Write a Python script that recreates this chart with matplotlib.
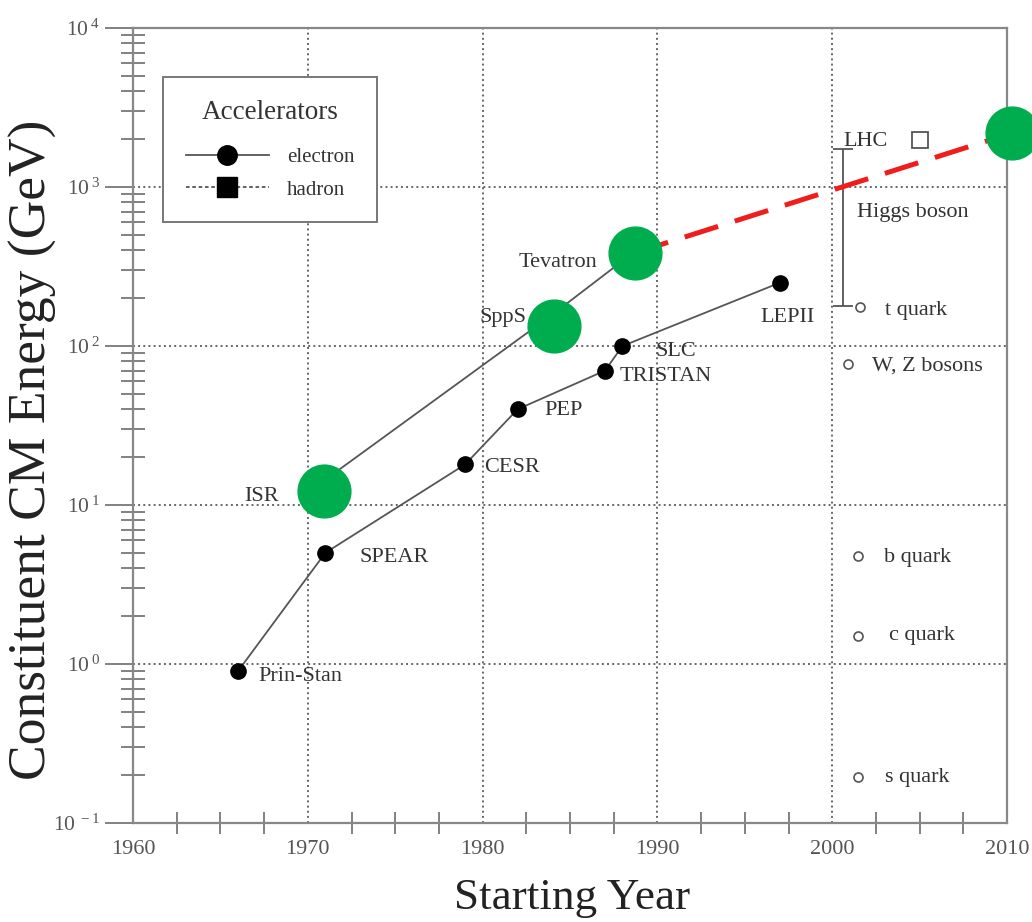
import matplotlib.pyplot as plt
from matplotlib.lines import Line2D
from matplotlib.ticker import LogLocator, MultipleLocator, FixedLocator, FixedFormatter, NullFormatter

plt.rcParams['font.family'] = ['Liberation Serif', 'DejaVu Serif']

# electron colliders
e_names = ['Prin-Stan', 'SPEAR', 'CESR', 'PEP', 'TRISTAN', 'SLC', 'LEPII']
e_year = [1966, 1971, 1979, 1982, 1987, 1988, 1997]
e_energy = [0.9, 5, 18, 40, 70, 100, 250]

# hadron colliders
h_names = ['ISR', 'SppS', 'Tevatron']
h_year = [1970, 1984, 1988.6]
h_energy = [12, 158, 385]

lhc_year = 2005
lhc_energy = 1980

# particle masses
p_names = ['t quark', 'W, Z bosons', 'b quark', 'c quark', 's quark']
p_year = [2001.6, 2000.9, 2001.5, 2001.5, 2001.5]
p_mass = [176, 77, 4.8, 1.5, 0.195]

higgs_year = 2000.6
higgs_low = 178
higgs_high = 1730

# green highlights + red extrapolation
hl_year = [1970.9, 1984.1, 1988.7, 2010.3]
hl_energy = [12.2, 134, 385, 2190]

gray = '#555555'

fig = plt.figure(figsize=(10.32, 9.22), dpi=100)
ax = fig.add_axes([0.1289, 0.1074, 0.8469, 0.8622])

ax.set_yscale('log')
ax.set_xlim(1960, 2010)
ax.set_ylim(0.1, 1e4)

# lines + points
ax.plot(e_year, e_energy, '-', color=gray, lw=1.3, zorder=3)
ax.plot(e_year, e_energy, 'o', color='black', ms=11, zorder=4)
ax.plot(h_year, h_energy, '-', color=gray, lw=1.3, zorder=3)
ax.plot(h_year, h_energy, 's', color='black', ms=11, zorder=4)
ax.plot([lhc_year], [lhc_energy], 's', mfc='white', mec=gray, mew=1.3, ms=12, zorder=4)
ax.plot(p_year, p_mass, 'o', mfc='white', mec=gray, mew=1.2, ms=6.5, zorder=4)

# Higgs mass range bracket
ax.errorbar([higgs_year], [higgs_low],
            yerr=[[0], [higgs_high - higgs_low]], fmt='none',
            ecolor=gray, elinewidth=1.3, capsize=7, capthick=1.3, zorder=3)

# red dashed extrapolation + green highlights
ax.plot(hl_year[2:], hl_energy[2:], color='#f01d1d', lw=3.6, dashes=(7, 3.5),
        zorder=5, clip_on=False)
ax.plot(hl_year, hl_energy, 'o', color='#00ad4e', ms=38, zorder=6, clip_on=False)

# labels
e_off = [(15, -3.5), (24.5, -3.6), (14, -2), (19.5, -1.2), (10.8, -3.9), (24, -4.3), (5.8, -24.7)]
for name, x, y, off in zip(e_names, e_year, e_energy, e_off):
    ha = 'center' if name == 'LEPII' else 'left'
    ax.annotate(name, (x, y), xytext=off, textcoords='offset points',
                ha=ha, va='center', fontsize=16, color='#333333')

h_off = [(-20.5, -3.3), (-18.6, -2), (-25.8, -7)]
for name, x, y, off in zip(h_names, h_year, h_energy, h_off):
    ax.annotate(name, (x, y), xytext=off, textcoords='offset points',
                ha='right', va='center', fontsize=16, color='#333333')

p_off = [(18, -2.2), (17.3, -1.4), (18.7, -1.4), (22.3, 0.7), (19.4, -0.7)]
for name, x, y, off in zip(p_names, p_year, p_mass, p_off):
    ax.annotate(name, (x, y), xytext=off, textcoords='offset points',
                ha='left', va='center', fontsize=16, color='#333333')

ax.annotate('LHC', (lhc_year, lhc_energy), xytext=(-23, -1.4), textcoords='offset points',
            ha='right', va='center', fontsize=16, color='#333333')
ax.annotate('Higgs boson', (higgs_year, higgs_high), xytext=(10, -45.4),
            textcoords='offset points', ha='left', va='center', fontsize=16, color='#333333')

# axes styling
for s in ax.spines.values():
    s.set_color('#888888')
    s.set_linewidth(1.6)

ax.xaxis.set_major_locator(MultipleLocator(10))
ax.xaxis.set_minor_locator(MultipleLocator(2.5))
ax.yaxis.set_major_locator(FixedLocator([0.1, 1, 10, 100, 1000, 10000]))
ax.yaxis.set_major_formatter(FixedFormatter(
    [r'$\mathregular{10^{\,-1}}$', r'$\mathregular{10^{\,0}}$', r'$\mathregular{10^{\,1}}$',
     r'$\mathregular{10^{\,2}}$', r'$\mathregular{10^{\,3}}$', r'$\mathregular{10^{\,4}}$']))
ax.yaxis.set_minor_locator(LogLocator(base=10, subs=range(2, 10), numticks=20))
ax.yaxis.set_minor_formatter(NullFormatter())

ax.tick_params(axis='x', which='major', length=0, pad=12, labelsize=16, labelcolor='#555555')
ax.tick_params(axis='x', which='minor', direction='inout', length=16, width=1.3, color='#777777')
ax.tick_params(axis='y', which='major', direction='out', length=20, width=1.3, color='#777777',
               pad=4, labelsize=15.5, labelcolor='#555555')
ax.tick_params(axis='y', which='minor', direction='inout', length=17, width=1.3, color='#777777')

ax.grid(True, which='major', linestyle=':', color='#666666', lw=1.4)
ax.set_axisbelow(True)

ax.set_xlabel('Starting Year', fontsize=32.5, color='#222222')
ax.set_ylabel('Constituent CM Energy (GeV)', fontsize=38.5, color='#222222')
ax.xaxis.set_label_coords(0.502, -0.069)
ax.yaxis.set_label_coords(-0.087, 0.469)

# legend
handles = [
    Line2D([], [], color=gray, lw=1.3, marker='o', mfc='black', mec='black', ms=14),
    Line2D([], [], color=gray, lw=1.3, ls=(0, (2, 1.5)), marker='s', mfc='black', mec='black', ms=15),
]
leg = ax.legend(handles, ['electron', 'hadron'], title='Accelerators', loc='upper left',
                bbox_to_anchor=(0.034, 0.938), fontsize=15, title_fontsize=19.5,
                frameon=True, fancybox=False, framealpha=1, edgecolor='#777777',
                borderpad=1.1, labelspacing=0.62, handlelength=4.0, handletextpad=0.85,
                borderaxespad=0)
leg._legend_box.sep = 16
leg.get_frame().set_linewidth(1.4)
for t in leg.get_texts():
    t.set_color('#333333')
leg.get_title().set_color('#333333')

fig.savefig('out.png', dpi=100)
